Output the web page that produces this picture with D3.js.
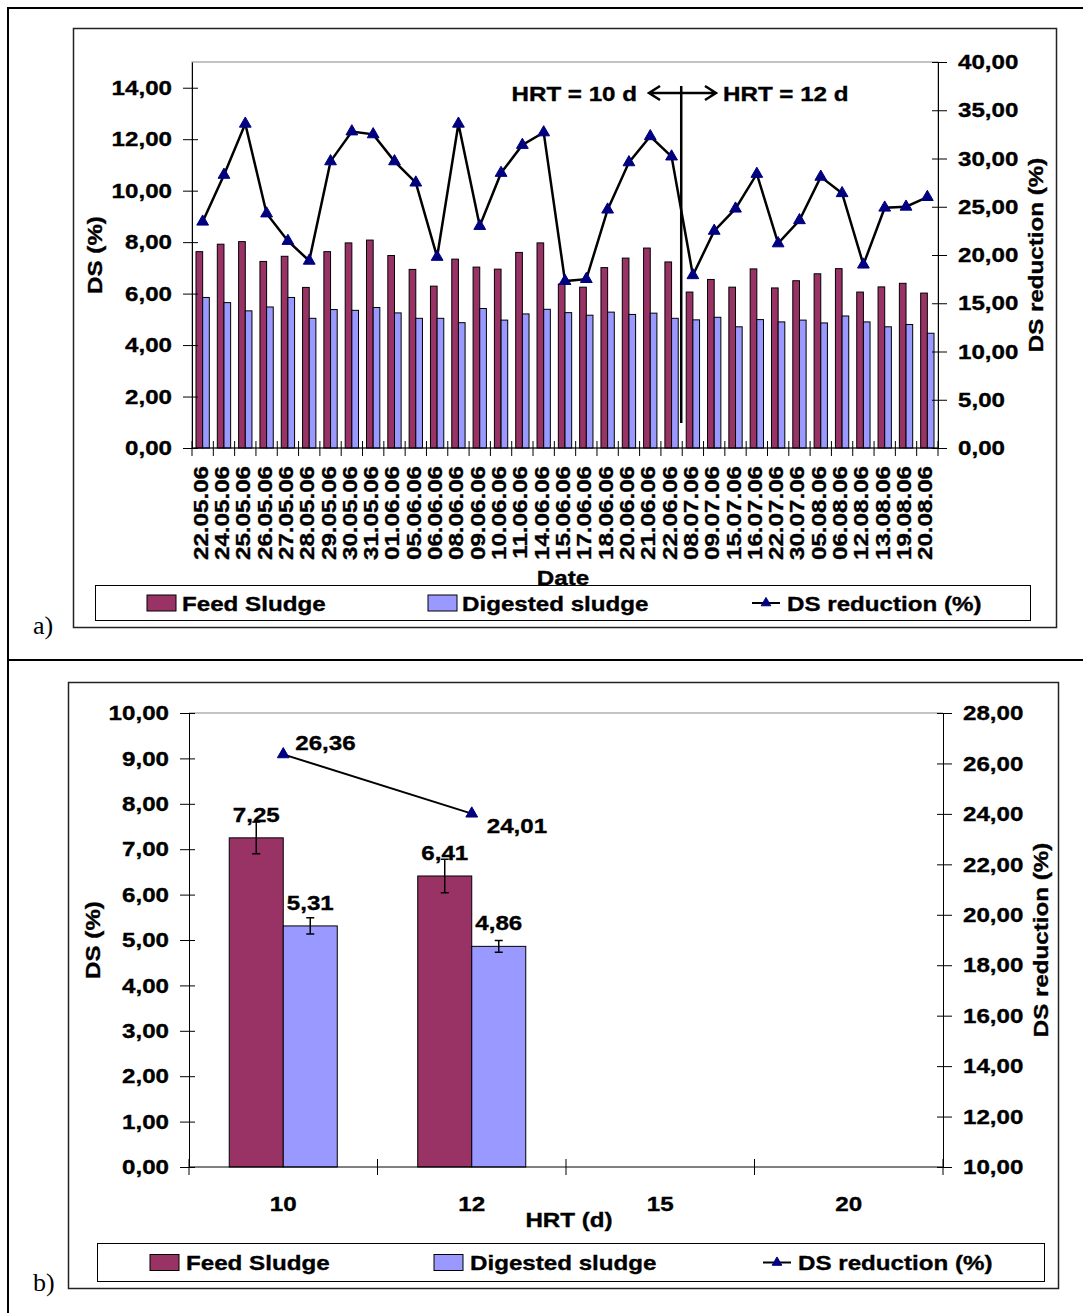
<!DOCTYPE html>
<html>
<head>
<meta charset="utf-8">
<script src="https://cdn.jsdelivr.net/npm/d3@7"></script>
<style>
body { margin: 0; background: #fff; }
svg text { font-family: "Liberation Sans", Arial, sans-serif; font-weight: bold; font-size: 21px; fill: #000; stroke: #000; stroke-width: 0.35px; }
svg text.panel { font-family: "Liberation Serif", "Times New Roman", serif; font-weight: normal; font-size: 26px; stroke: none; }
</style>
</head>
<body>
<svg id="chart" width="1083" height="1313"></svg>
<script>
// panel a) daily values
var dates = ["22.05.06","24.05.06","25.05.06","26.05.06","27.05.06","28.05.06","29.05.06","30.05.06","31.05.06",
  "01.06.06","05.06.06","06.06.06","08.06.06","09.06.06","10.06.06","11.06.06","14.06.06","15.06.06","17.06.06",
  "18.06.06","20.06.06","21.06.06","22.06.06","08.07.06","09.07.06","15.07.06","16.07.06","22.07.06","30.07.06",
  "05.08.06","06.08.06","12.08.06","13.08.06","19.08.06","20.08.06"];
var feedSludge = [7.63,7.92,8.02,7.25,7.45,6.24,7.63,7.97,8.08,7.48,6.94,6.29,7.34,7.03,6.95,7.60,7.97,6.37,6.25,
  7.01,7.38,7.77,7.23,6.06,6.55,6.25,6.96,6.22,6.50,6.77,6.97,6.06,6.26,6.40,6.02];
var digestedSludge = [5.85,5.65,5.33,5.48,5.85,5.04,5.38,5.35,5.46,5.25,5.04,5.04,4.87,5.42,4.97,5.21,5.39,5.26,5.16,
  5.28,5.19,5.24,5.04,4.98,5.08,4.71,4.99,4.90,4.97,4.86,5.13,4.90,4.71,4.80,4.46];
var dsReduction = [23.45,28.3,33.6,24.3,21.45,19.4,29.7,32.8,32.5,29.7,27.5,19.8,33.6,23.0,28.5,31.4,32.7,17.3,17.5,
  24.7,29.6,32.3,30.2,17.9,22.5,24.8,28.4,21.2,23.6,28.1,26.4,19.0,24.9,25.0,26.0];
var leftTicksA = [0, 2, 4, 6, 8, 10, 12, 14];
var rightTicksA = [0, 5, 10, 15, 20, 25, 30, 35, 40];

// panel b) means per HRT
var hrtCats = ["10", "12", "15", "20"];
var hrtFeed = [7.25, 6.41];
var hrtFeedErr = [0.35, 0.37];
var hrtDigested = [5.31, 4.86];
var hrtDigestedErr = [0.18, 0.13];
var hrtReduction = [26.36, 24.01];
var leftTicksB = [0, 1, 2, 3, 4, 5, 6, 7, 8, 9, 10];
var rightTicksB = [10, 12, 14, 16, 18, 20, 22, 24, 26, 28];

var seriesNames = ["Feed Sludge", "Digested sludge", "DS reduction (%)"];
var feedColor = "#993366", digColor = "#9999ff", markColor = "#000080";

var svg = d3.select("#chart");
var fmt = function(v) { return d3.format(".2f")(v).replace(".", ","); };
var triangle = d3.symbol().type(d3.symbolTriangle);

// the source fonts run wider than Liberation Sans
function stretch(sel) {
  sel.each(function() {
    var len = this.getComputedTextLength();
    if (len > 0) {
      this.setAttribute("textLength", (len * 1.15).toFixed(1));
      this.setAttribute("lengthAdjust", "spacingAndGlyphs");
    }
  });
}

function crossTicks(g, inside) {
  g.select(".domain").attr("stroke", "#000");
  g.selectAll(".tick line").attr("stroke", "#000").attr(inside.attr, inside.v);
  stretch(g.selectAll("text"));
}

// ---- outer table lines ----
svg.append("path")
  .attr("d", "M8,1313 V8 H1083 M8,660 H1083")
  .attr("fill", "none").attr("stroke", "#000").attr("stroke-width", 2);
svg.append("text").attr("class", "panel").attr("x", 33).attr("y", 634).text("a)");
svg.append("text").attr("class", "panel").attr("x", 33).attr("y", 1291).text("b)");

function legend(x0, y0, w, h, sw, tx) {
  var g = svg.append("g");
  g.append("rect").attr("x", x0).attr("y", y0).attr("width", w).attr("height", h)
    .attr("fill", "#fff").attr("stroke", "#000").attr("stroke-width", 1);
  var cy = y0 + h / 2;
  g.append("rect").attr("x", sw[0]).attr("y", cy - 8).attr("width", 29).attr("height", 16)
    .attr("fill", feedColor).attr("stroke", "#000");
  g.append("rect").attr("x", sw[1]).attr("y", cy - 8).attr("width", 29).attr("height", 16)
    .attr("fill", digColor).attr("stroke", "#000");
  g.append("line").attr("x1", sw[2]).attr("x2", sw[2] + 28).attr("y1", cy).attr("y2", cy)
    .attr("stroke", "#000").attr("stroke-width", 2);
  g.append("path").attr("d", triangle.size(40)()).attr("transform", "translate(" + (sw[2] + 14) + "," + cy + ")")
    .attr("fill", markColor).attr("stroke", markColor);
  seriesNames.forEach(function(n, i) {
    g.append("text").attr("x", tx[i]).attr("y", cy + 7.5).text(n);
  });
  stretch(g.selectAll("text"));
}

// ================= panel a =================
(function() {
  var left = 192, right = 938, top = 62, bottom = 448;
  svg.append("rect").attr("x", 73.5).attr("y", 28.5).attr("width", 983).attr("height", 599)
    .attr("fill", "#fff").attr("stroke", "#222").attr("stroke-width", 1.5);
  svg.append("rect").attr("x", left).attr("y", top).attr("width", right - left).attr("height", bottom - top)
    .attr("fill", "none").attr("stroke", "#888");

  var x = d3.scaleBand().domain(dates).range([left, right]);
  var xs = d3.scaleBand().domain(["feed", "dig"]).range([0, x.bandwidth()]).paddingOuter(0.6);
  var yL = d3.scaleLinear().domain([0, 15]).range([bottom, top]);
  var yR = d3.scaleLinear().domain([0, 40]).range([bottom, top]);

  var bars = svg.append("g").selectAll("g").data(dates).join("g")
    .attr("transform", function(d) { return "translate(" + x(d) + ",0)"; });
  bars.append("rect").attr("x", xs("feed")).attr("width", xs.bandwidth())
    .attr("y", function(d, i) { return yL(feedSludge[i]); })
    .attr("height", function(d, i) { return bottom - yL(feedSludge[i]); })
    .attr("fill", feedColor).attr("stroke", "#000").attr("stroke-width", 1);
  bars.append("rect").attr("x", xs("dig")).attr("width", xs.bandwidth())
    .attr("y", function(d, i) { return yL(digestedSludge[i]); })
    .attr("height", function(d, i) { return bottom - yL(digestedSludge[i]); })
    .attr("fill", digColor).attr("stroke", "#000").attr("stroke-width", 1);

  var cx = function(i) { return x(dates[i]) + x.bandwidth() / 2; };
  svg.append("path").datum(dsReduction)
    .attr("d", d3.line().x(function(d, i) { return cx(i); }).y(function(d) { return yR(d); }))
    .attr("fill", "none").attr("stroke", "#000").attr("stroke-width", 2.5);
  svg.append("g").selectAll("path").data(dsReduction).join("path")
    .attr("d", triangle.size(60)())
    .attr("transform", function(d, i) { return "translate(" + cx(i) + "," + yR(d) + ")"; })
    .attr("fill", markColor).attr("stroke", markColor);

  var gl = svg.append("g").attr("transform", "translate(" + left + ",0)")
    .call(d3.axisLeft(yL).tickValues(leftTicksA).tickFormat(fmt).tickSize(9).tickSizeOuter(0).tickPadding(11));
  crossTicks(gl, { attr: "x1", v: 6 });
  var gr = svg.append("g").attr("transform", "translate(" + right + ",0)")
    .call(d3.axisRight(yR).tickValues(rightTicksA).tickFormat(fmt).tickSize(9).tickSizeOuter(0).tickPadding(11));
  crossTicks(gr, { attr: "x1", v: -6 });

  // category axis
  var gx = svg.append("g");
  gx.append("line").attr("x1", left).attr("x2", right).attr("y1", bottom).attr("y2", bottom).attr("stroke", "#000");
  gx.selectAll("line.t").data(dates.concat(["end"])).join("line").attr("class", "t")
    .attr("x1", function(d) { return d === "end" ? right : x(d); })
    .attr("x2", function(d) { return d === "end" ? right : x(d); })
    .attr("y1", bottom - 7).attr("y2", bottom + 8).attr("stroke", "#000");
  gx.selectAll("text").data(dates).join("text")
    .attr("text-anchor", "end")
    .attr("transform", function(d) { return "translate(" + (x(d) + x.bandwidth() / 2 + 5) + "," + (bottom + 18) + ") rotate(-90)"; })
    .text(function(d) { return d; });
  stretch(gx.selectAll("text"));

  var titles = svg.append("g");
  titles.append("text").attr("text-anchor", "middle").attr("x", (left + right) / 2 - 2).attr("y", 585).text("Date");
  titles.append("text").attr("text-anchor", "middle").attr("transform", "translate(102,255) rotate(-90)").text("DS (%)");
  titles.append("text").attr("text-anchor", "middle").attr("transform", "translate(1043,255) rotate(-90)").text("DS reduction (%)");

  // HRT change annotation
  var xs0 = x(dates[23]) - 1;
  titles.append("line").attr("x1", xs0).attr("x2", xs0).attr("y1", 86).attr("y2", 423)
    .attr("stroke", "#000").attr("stroke-width", 2.5);
  titles.append("path").attr("d", "M649,93 H716 M660,86 L649,93 L660,100 M705,86 L716,93 L705,100")
    .attr("fill", "none").attr("stroke", "#000").attr("stroke-width", 2.5);
  titles.append("text").attr("text-anchor", "end").attr("x", 637).attr("y", 101).text("HRT = 10 d");
  titles.append("text").attr("x", 723).attr("y", 101).text("HRT = 12 d");
  stretch(titles.selectAll("text"));

  legend(95.5, 585.5, 935, 35, [147, 428, 752], [182, 462, 787]);
})();

// ================= panel b =================
(function() {
  var left = 189, right = 943, top = 713, bottom = 1167;
  svg.append("rect").attr("x", 68.5).attr("y", 682.5).attr("width", 990).attr("height", 606)
    .attr("fill", "#fff").attr("stroke", "#222").attr("stroke-width", 1.5);
  svg.append("line").attr("x1", left).attr("x2", right).attr("y1", top).attr("y2", top).attr("stroke", "#888");

  var x = d3.scaleBand().domain(hrtCats).range([left, right]);
  var xs = d3.scaleBand().domain(["feed", "dig"]).range([0, x.bandwidth()]).paddingOuter(0.745);
  var yL = d3.scaleLinear().domain([0, 10]).range([bottom, top]);
  var yR = d3.scaleLinear().domain([10, 28]).range([bottom, top]);

  var groups = [
    { key: "feed", vals: hrtFeed, err: hrtFeedErr, color: feedColor },
    { key: "dig", vals: hrtDigested, err: hrtDigestedErr, color: digColor }
  ];
  groups.forEach(function(s) {
    var g = svg.append("g").selectAll("g").data(s.vals).join("g")
      .attr("transform", function(d, i) { return "translate(" + (x(hrtCats[i]) + xs(s.key)) + ",0)"; });
    g.append("rect").attr("x", 0).attr("width", xs.bandwidth())
      .attr("y", function(d) { return yL(d); })
      .attr("height", function(d) { return bottom - yL(d); })
      .attr("fill", s.color).attr("stroke", "#000").attr("stroke-width", 1);
    var m = xs.bandwidth() / 2;
    g.append("path")
      .attr("d", function(d, i) {
        var a = yL(d + s.err[i]), b = yL(d - s.err[i]);
        return "M" + m + "," + a + "V" + b + "M" + (m - 4) + "," + a + "H" + (m + 4) + "M" + (m - 4) + "," + b + "H" + (m + 4);
      })
      .attr("fill", "none").attr("stroke", "#000").attr("stroke-width", 1.5);
    g.append("text").attr("text-anchor", "middle").attr("x", m)
      .attr("y", function(d) { return yL(d) - 16; })
      .text(function(d) { return fmt(d); });
    stretch(g.selectAll("text"));
  });

  var cx = function(i) { return x(hrtCats[i]) + x.bandwidth() / 2; };
  svg.append("path").datum(hrtReduction)
    .attr("d", d3.line().x(function(d, i) { return cx(i); }).y(function(d) { return yR(d); }))
    .attr("fill", "none").attr("stroke", "#000").attr("stroke-width", 2);
  svg.append("g").selectAll("path").data(hrtReduction).join("path")
    .attr("d", triangle.size(60)())
    .attr("transform", function(d, i) { return "translate(" + cx(i) + "," + yR(d) + ")"; })
    .attr("fill", markColor).attr("stroke", markColor);
  var lblOff = [[12, -4], [15, 19]];
  var lt = svg.append("g").selectAll("text").data(hrtReduction).join("text")
    .attr("x", function(d, i) { return cx(i) + lblOff[i][0]; })
    .attr("y", function(d, i) { return yR(d) + lblOff[i][1]; })
    .text(function(d) { return fmt(d); });
  stretch(lt);

  var gl = svg.append("g").attr("transform", "translate(" + left + ",0)")
    .call(d3.axisLeft(yL).tickValues(leftTicksB).tickFormat(fmt).tickSize(9).tickSizeOuter(0).tickPadding(11));
  crossTicks(gl, { attr: "x1", v: 6 });
  var gr = svg.append("g").attr("transform", "translate(" + right + ",0)")
    .call(d3.axisRight(yR).tickValues(rightTicksB).tickFormat(fmt).tickSize(9).tickSizeOuter(0).tickPadding(11));
  crossTicks(gr, { attr: "x1", v: -6 });

  var gx = svg.append("g");
  gx.append("line").attr("x1", left).attr("x2", right).attr("y1", bottom).attr("y2", bottom).attr("stroke", "#000");
  gx.selectAll("line.t").data(hrtCats.concat(["end"])).join("line").attr("class", "t")
    .attr("x1", function(d) { return d === "end" ? right : x(d); })
    .attr("x2", function(d) { return d === "end" ? right : x(d); })
    .attr("y1", bottom - 8).attr("y2", bottom + 8).attr("stroke", "#000");
  gx.selectAll("text").data(hrtCats).join("text")
    .attr("text-anchor", "middle")
    .attr("x", function(d) { return x(d) + x.bandwidth() / 2; })
    .attr("y", 1211)
    .text(function(d) { return d; });
  gx.append("text").attr("text-anchor", "middle").attr("x", (left + right) / 2 + 3).attr("y", 1227).text("HRT (d)");
  gx.append("text").attr("text-anchor", "middle").attr("transform", "translate(100,940) rotate(-90)").text("DS (%)");
  gx.append("text").attr("text-anchor", "middle").attr("transform", "translate(1048,940) rotate(-90)").text("DS reduction (%)");
  stretch(gx.selectAll("text"));

  legend(97.5, 1243.5, 947, 38, [150, 434, 763], [186, 470, 798]);
})();
</script>
</body>
</html>
